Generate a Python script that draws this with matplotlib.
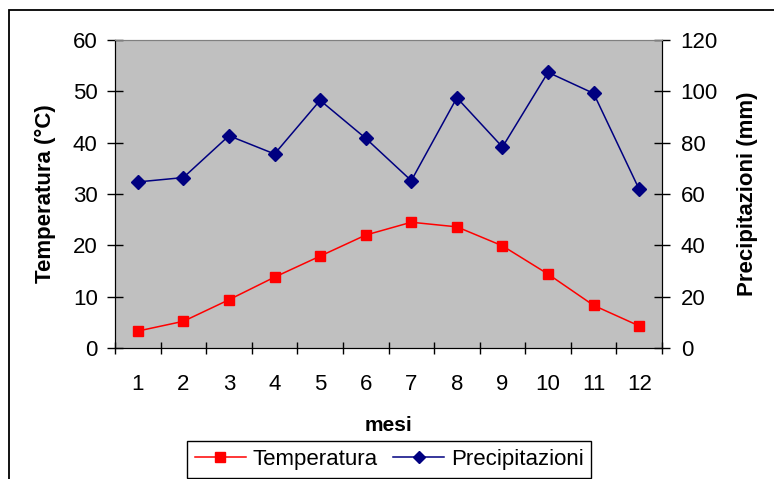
import matplotlib
matplotlib.use("Agg")
import matplotlib.pyplot as plt
from matplotlib.patches import Rectangle

months = [1, 2, 3, 4, 5, 6, 7, 8, 9, 10, 11, 12]
temperatura = [3.3, 5.2, 9.4, 13.8, 17.9, 22.0, 24.5, 23.6, 19.9, 14.4, 8.3, 4.3]
precipitazioni = [64.7, 66.4, 82.7, 75.6, 96.5, 81.7, 65.2, 97.5, 78.3, 107.4, 99.2, 61.8]
left_ticks = [0, 10, 20, 30, 40, 50, 60]
right_ticks = [0, 20, 40, 60, 80, 100, 120]

plt.rcParams['font.family'] = ['Liberation Sans', 'DejaVu Sans']

fig = plt.figure(figsize=(7.74, 4.79), dpi=100)
ax = fig.add_axes([115/774, 1-348/479, 547/774, 308/479])
ax.set_facecolor('#C0C0C0')
ax2 = ax.twinx()

x = list(range(len(months)))
l1, = ax.plot(x, temperatura, color='#FF0000', marker='s', markersize=7.5, lw=1.1,
              label='Temperatura')
l2, = ax2.plot(x, precipitazioni, color='#000080', marker='D', markersize=7, lw=1.1,
               label='Precipitazioni')

ax.set_xlim(-0.5, len(months) - 0.5)
ax.set_ylim(0, 60)
ax2.set_ylim(0, 120)
ax.set_yticks(left_ticks)
ax2.set_yticks(right_ticks)

ax.set_xticks([i + 0.5 for i in range(-1, len(months))], minor=False)
ax.set_xticklabels([])
ax.set_xticks(x, minor=True)
ax.set_xticklabels([str(m) for m in months], minor=True)
ax.tick_params(axis='x', which='minor', length=0, pad=18.5, labelsize=16)
ax.tick_params(axis='x', which='major', direction='inout', length=9, width=1)
ax.tick_params(axis='y', direction='inout', length=11, width=1, labelsize=16, pad=7)
ax2.tick_params(axis='y', direction='inout', length=11, width=1, labelsize=16, pad=8)

for a in (ax, ax2):
    a.spines['top'].set_color('#808080')
    a.spines['left'].set_color('black')
    a.spines['right'].set_color('black')
    a.spines['bottom'].set_color('black')

ax.set_xlabel('mesi', fontsize=15, fontweight='bold', labelpad=15)
ax.set_ylabel('Temperatura (°C)', fontsize=16, fontweight='bold', labelpad=12)
ax2.set_ylabel('Precipitazioni (mm)', fontsize=16, fontweight='bold', labelpad=14)

leg = fig.legend(handles=[l1, l2], loc='upper center', bbox_to_anchor=(389/774, 1-441/479),
                 ncol=2, fontsize=16, frameon=True, fancybox=False, shadow=False,
                 edgecolor='black', framealpha=1, handlelength=2.3, columnspacing=0.7,
                 handletextpad=0.3, borderpad=0.35, borderaxespad=0, markerscale=0.9)
leg.get_frame().set_linewidth(1)

fig.patches.append(Rectangle((9/774, -0.2), 1.2, 0.2 + (1-10/479), transform=fig.transFigure,
                             fill=False, edgecolor='black', lw=1.3, zorder=-1))

fig.savefig('out.png', dpi=100)
